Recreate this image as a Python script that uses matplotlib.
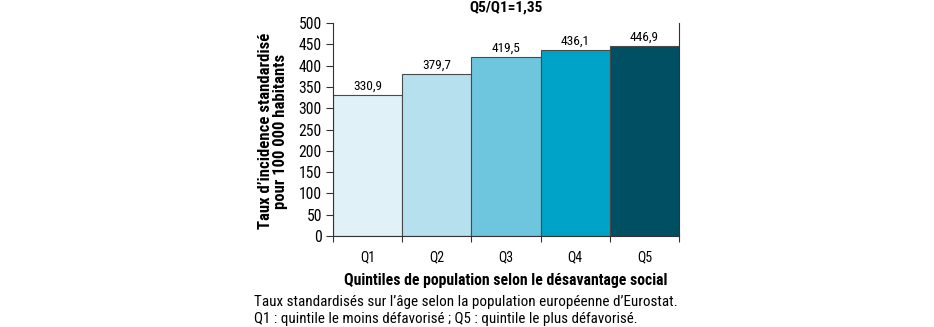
import matplotlib.pyplot as plt
import numpy as np

# data
quintiles = ['Q1', 'Q2', 'Q3', 'Q4', 'Q5']
taux = [330.9, 379.7, 419.5, 436.1, 446.9]
couleurs = ['#e0f1f8', '#b6e0ee', '#6ec6de', '#00a3c8', '#004f62']
y_ticks = [0, 50, 100, 150, 200, 250, 300, 350, 400, 450, 500]

plt.rcParams['font.family'] = ['Roboto Condensed', 'Archivo Narrow', 'DejaVu Sans']

W, H = 934, 327
fig = plt.figure(figsize=(W / 100, H / 100), dpi=100)
ax = fig.add_axes([333 / W, 1 - 236 / H, 346 / W, 213 / H])

x = np.arange(len(quintiles))
ax.bar(x, taux, width=1.0, color=couleurs, edgecolor='#4a4a4a', linewidth=0.8)

vlabels = []
for xi, v in zip(x, taux):
    vlabels.append(ax.text(xi, v + 5, ('%.1f' % v).replace('.', ','), ha='center', va='bottom',
                           fontsize=9))

ax.set_xlim(-0.5, 4.5)
ax.set_ylim(0, 500)
ax.set_yticks(y_ticks)
ax.tick_params(axis='y', labelsize=10, length=5, width=0.8, pad=3, color='#333333')

# ticks on the category boundaries, labels in the middle
ax.set_xticks(np.arange(-0.5, 5.0, 1.0))
ax.set_xticklabels([])
ax.set_xticks(x, minor=True)
ax.set_xticklabels(quintiles, minor=True, fontsize=10)
ax.tick_params(axis='x', which='major', length=4, width=0.8, color='#333333')
ax.tick_params(axis='x', which='minor', length=0, pad=10)

ax.spines['top'].set_visible(False)
for s in ['left', 'right', 'bottom']:
    ax.spines[s].set_linewidth(0.8)
    ax.spines[s].set_color('#333333')

titre = fig.text(506 / W, 1 - 8 / H, 'Q5/Q1=1,35', fontsize=9, fontweight='bold',
                 ha='center', va='center')
xlab = fig.text(506 / W, 1 - 280 / H, 'Quintiles de population selon le désavantage social',
                fontsize=10, fontweight='bold', ha='center', va='center')
ylab = fig.text(273 / W, 1 - 131 / H, 'Taux d\u2019incidence standardisé\npour 100 000 habitants',
                fontsize=10, fontweight='bold', ha='center', va='center', rotation=90,
                linespacing=1.0)
note1 = fig.text(254 / W, 1 - 302 / H,
                 'Taux standardisés sur l\u2019âge selon la population européenne d\u2019Eurostat.',
                 fontsize=9.5, va='center', ha='left')
note2 = fig.text(254 / W, 1 - 319 / H,
                 'Q1 : quintile le moins défavorisé ; Q5 : quintile le plus défavorisé.',
                 fontsize=9.5, va='center', ha='left')

# scale font sizes so text widths match the reference (pixels)
fig.canvas.draw()
r = fig.canvas.get_renderer()


def fit(t, target, vertical=False):
    bb = t.get_window_extent(r)
    size = bb.height if vertical else bb.width
    t.set_fontsize(t.get_fontsize() * target / size)
    return t.get_fontsize()


fit(titre, 73)
fit(xlab, 324)
fit(ylab, 196, vertical=True)
fit(note1, 423)
fit(note2, 385)
fs_val = fit(vlabels[0], 29)
for t in vlabels:
    t.set_fontsize(fs_val)
fs_y = fit(ax.get_yticklabels()[-1], 23)
ax.tick_params(axis='y', labelsize=fs_y)
fs_x = fit(ax.get_xticklabels(minor=True)[0], 15)
ax.tick_params(axis='x', which='minor', labelsize=fs_x)

fig.savefig('out.png', dpi=100)
